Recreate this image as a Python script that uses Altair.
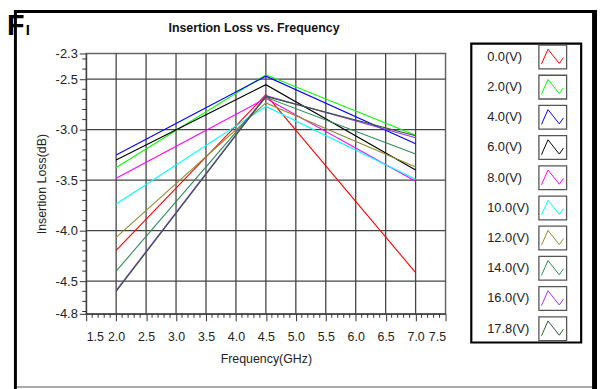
import altair as alt
import pandas as pd

# ---- data ----
freqs = [2.0, 4.5, 7.0]
labels = ["0.0(V)", "2.0(V)", "4.0(V)", "6.0(V)", "8.0(V)", "10.0(V)",
          "12.0(V)", "14.0(V)", "16.0(V)", "17.8(V)"]
loss_2_0 = [-4.196, -3.375, -3.25, -3.30, -3.48, -3.735, -4.066, -4.40, -4.59, -4.60]
loss_4_5 = [-2.653, -2.457, -2.47, -2.555, -2.69, -2.77, -2.735, -2.68, -2.663, -2.67]
loss_7_0 = [-4.415, -3.055, -3.14, -3.40, -3.51, -3.49, -3.37, -3.24, -3.08, -3.06]
colors = ["#ff0000", "#00ff00", "#0000ff", "#000000", "#ff00ff", "#00ffff",
          "#8f8c30", "#2e8b57", "#9933ff", "#2f5a2f"]

x_ticks = [1.5, 2.0, 2.5, 3.0, 3.5, 4.0, 4.5, 5.0, 5.5, 6.0, 6.5, 7.0, 7.5]
x_grid = [2.0, 2.5, 3.0, 3.5, 4.0, 4.5, 5.0, 5.5, 6.0, 6.5, 7.0]
y_min, y_max = -4.823, -2.2455
y_ticks = [y_min, -4.5, -4.0, -3.5, -3.0, -2.5, y_max]
y_grid = [-4.5, -4.0, -3.5, -3.0, -2.5]
x_minor = [round(1.5 + 0.1 * i, 1) for i in range(61) if i % 5 != 0]
y_minor = [round(-4.8 + 0.1 * i, 1) for i in range(26) if i % 5 != 3]

rows = []
for k, lab in enumerate(labels):
    for f, v in zip(freqs, [loss_2_0[k], loss_4_5[k], loss_7_0[k]]):
        rows.append({"series": lab, "order": k, "freq": f, "loss": v})
df = pd.DataFrame(rows)
leg = pd.DataFrame({"series": labels})

FONT = "Liberation Sans"
xs = alt.Scale(domain=[1.5, 7.5], nice=False, zero=False)
ys = alt.Scale(domain=[y_min, y_max], nice=False, zero=False)
cs = alt.Scale(domain=labels, range=colors)

x_label_expr = "replace(format(datum.value, '.1f'), '\u2212', '-')"
y_label_expr = ("datum.value < -4.8 ? '-4.8' : (datum.value > -2.3 ? '-2.3' : "
                "replace(format(datum.value, '.1f'), '\u2212', '-'))")

x_axis = alt.Axis(
    values=x_ticks, labelExpr=x_label_expr, grid=False, tickSize=7, tickColor="#333",
    domainColor="#333", labelFont=FONT, labelFontSize=12.5, labelColor="#222",
    labelPadding=10, title="Frequency(GHz)", titleFont=FONT, titleFontSize=12.5,
    titleFontWeight="normal", titleColor="#222", titleX=181.5, titleY=45,
    titleBaseline="middle")
y_axis = alt.Axis(
    values=y_ticks, labelExpr=y_label_expr, grid=False, tickSize=7,
    tickColor="#333", domainColor="#333", labelFont=FONT, labelFontSize=13,
    labelColor="#222", labelPadding=2, title="Insertion Loss(dB)",
    titleFont=FONT, titleFontSize=12.5, titleFontWeight="normal",
    titleColor="#222", titleAngle=-90, titleX=-45, titleY=131.5,
    titleBaseline="middle", titleAlign="center")

vgrid = alt.Chart(pd.DataFrame({"v": x_grid})).mark_rule(
    color="#444", strokeWidth=1.3).encode(
    x=alt.X("v:Q", scale=xs, axis=x_axis), y=alt.value(0), y2=alt.value(263))
hgrid = alt.Chart(pd.DataFrame({"v": y_grid})).mark_rule(
    color="#444", strokeWidth=1.3).encode(
    y=alt.Y("v:Q", scale=ys, axis=None), x=alt.value(0), x2=alt.value(363))
xminor = alt.Chart(pd.DataFrame({"v": x_minor})).mark_rule(
    color="#333", strokeWidth=1).encode(
    x=alt.X("v:Q", scale=xs, axis=x_axis), y=alt.value(263), y2=alt.value(267))
yminor = alt.Chart(pd.DataFrame({"v": y_minor})).mark_rule(
    color="#333", strokeWidth=1).encode(
    y=alt.Y("v:Q", scale=ys, axis=None), x=alt.value(-4), x2=alt.value(0))

lines = alt.Chart(df).mark_line(strokeWidth=1.1, clip=True).encode(
    x=alt.X("freq:Q", scale=xs, axis=x_axis),
    y=alt.Y("loss:Q", scale=ys, axis=y_axis),
    color=alt.Color("series:N", scale=cs, legend=None),
    order=alt.Order("order:Q"),
    detail="series:N",
)

# ---- legend drawn as its own layers ----
ly = alt.Y("series:N", scale=alt.Scale(type="point", domain=labels,
                                       range=[3.5, 278], padding=0), axis=None)
leg_box = alt.Chart(pd.DataFrame({"a": [0]})).mark_rect(
    fill="white", stroke="black", strokeWidth=2.2).encode(
    x=alt.value(389), x2=alt.value(500), y=alt.value(-10), y2=alt.value(292))
leg_text = alt.Chart(leg).mark_text(
    align="left", baseline="middle", font=FONT, fontSize=13, color="#222").encode(
    x=alt.value(405), y=ly, text="series:N")
icon_box = alt.Chart(leg).mark_point(
    shape="M-1,-0.857L1,-0.857L1,0.857L-1,0.857Z", size=784, filled=False,
    stroke="#555", strokeWidth=1.3, opacity=1).encode(x=alt.value(471.3), y=ly)
icon = alt.Chart(leg).mark_point(
    shape="M-0.95,0.6L-0.4,-0.65L0.55,0.55L0.9,0.05", size=576, filled=False,
    strokeWidth=1, opacity=1).encode(
    x=alt.value(471.3), y=ly, stroke=alt.Stroke("series:N", scale=cs, legend=None))

# ---- title, panel letter and figure frame ----
title = alt.Chart(pd.DataFrame({"t": ["Insertion Loss vs. Frequency"]})).mark_text(
    font=FONT, fontSize=12.5, fontWeight="bold", color="#111", baseline="middle").encode(
    x=alt.value(169.5), y=alt.value(-26), text="t:N")
letter_f = alt.Chart(pd.DataFrame({"t": ["F"]})).mark_text(
    font=FONT, fontSize=29, fontWeight="bold", color="black", align="left",
    baseline="alphabetic").encode(x=alt.value(-80), y=alt.value(-19), text="t:N")
letter_i = alt.Chart(pd.DataFrame({"t": ["I"]})).mark_text(
    font=FONT, fontSize=15, fontWeight="bold", color="black", align="left",
    baseline="alphabetic").encode(x=alt.value(-61), y=alt.value(-19), text="t:N")
frame_left = alt.Chart(pd.DataFrame({"a": [0]})).mark_rule(
    color="black", strokeWidth=3).encode(
    x=alt.value(-71.5), y=alt.value(-44), y2=alt.value(340))
frame_top = alt.Chart(pd.DataFrame({"a": [0]})).mark_rule(
    color="black", strokeWidth=3).encode(
    x=alt.value(-73), x2=alt.value(516), y=alt.value(-42.5))
frame_right = alt.Chart(pd.DataFrame({"a": [0]})).mark_rule(
    color="black", strokeWidth=5).encode(
    x=alt.value(513.5), y=alt.value(-44), y2=alt.value(340))
frame_bottom = alt.Chart(pd.DataFrame({"a": [0]})).mark_rule(
    color="#aaaaaa", strokeWidth=2).encode(
    x=alt.value(-70), x2=alt.value(511), y=alt.value(337))

chart = alt.layer(
    vgrid, hgrid, xminor, yminor, lines,
    leg_box, leg_text, icon_box, icon,
    title, frame_left, frame_top, frame_right, frame_bottom, letter_f, letter_i,
).resolve_scale(y="independent").properties(
    width=363, height=263,
    padding={"left": 79, "top": 44, "right": 154, "bottom": 74},
    autosize=alt.AutoSizeParams(type="none"),
    background="white",
).configure_view(stroke="#666", strokeWidth=1.5)

chart.save("out.html", embed_options={"renderer": "svg", "actions": False})
